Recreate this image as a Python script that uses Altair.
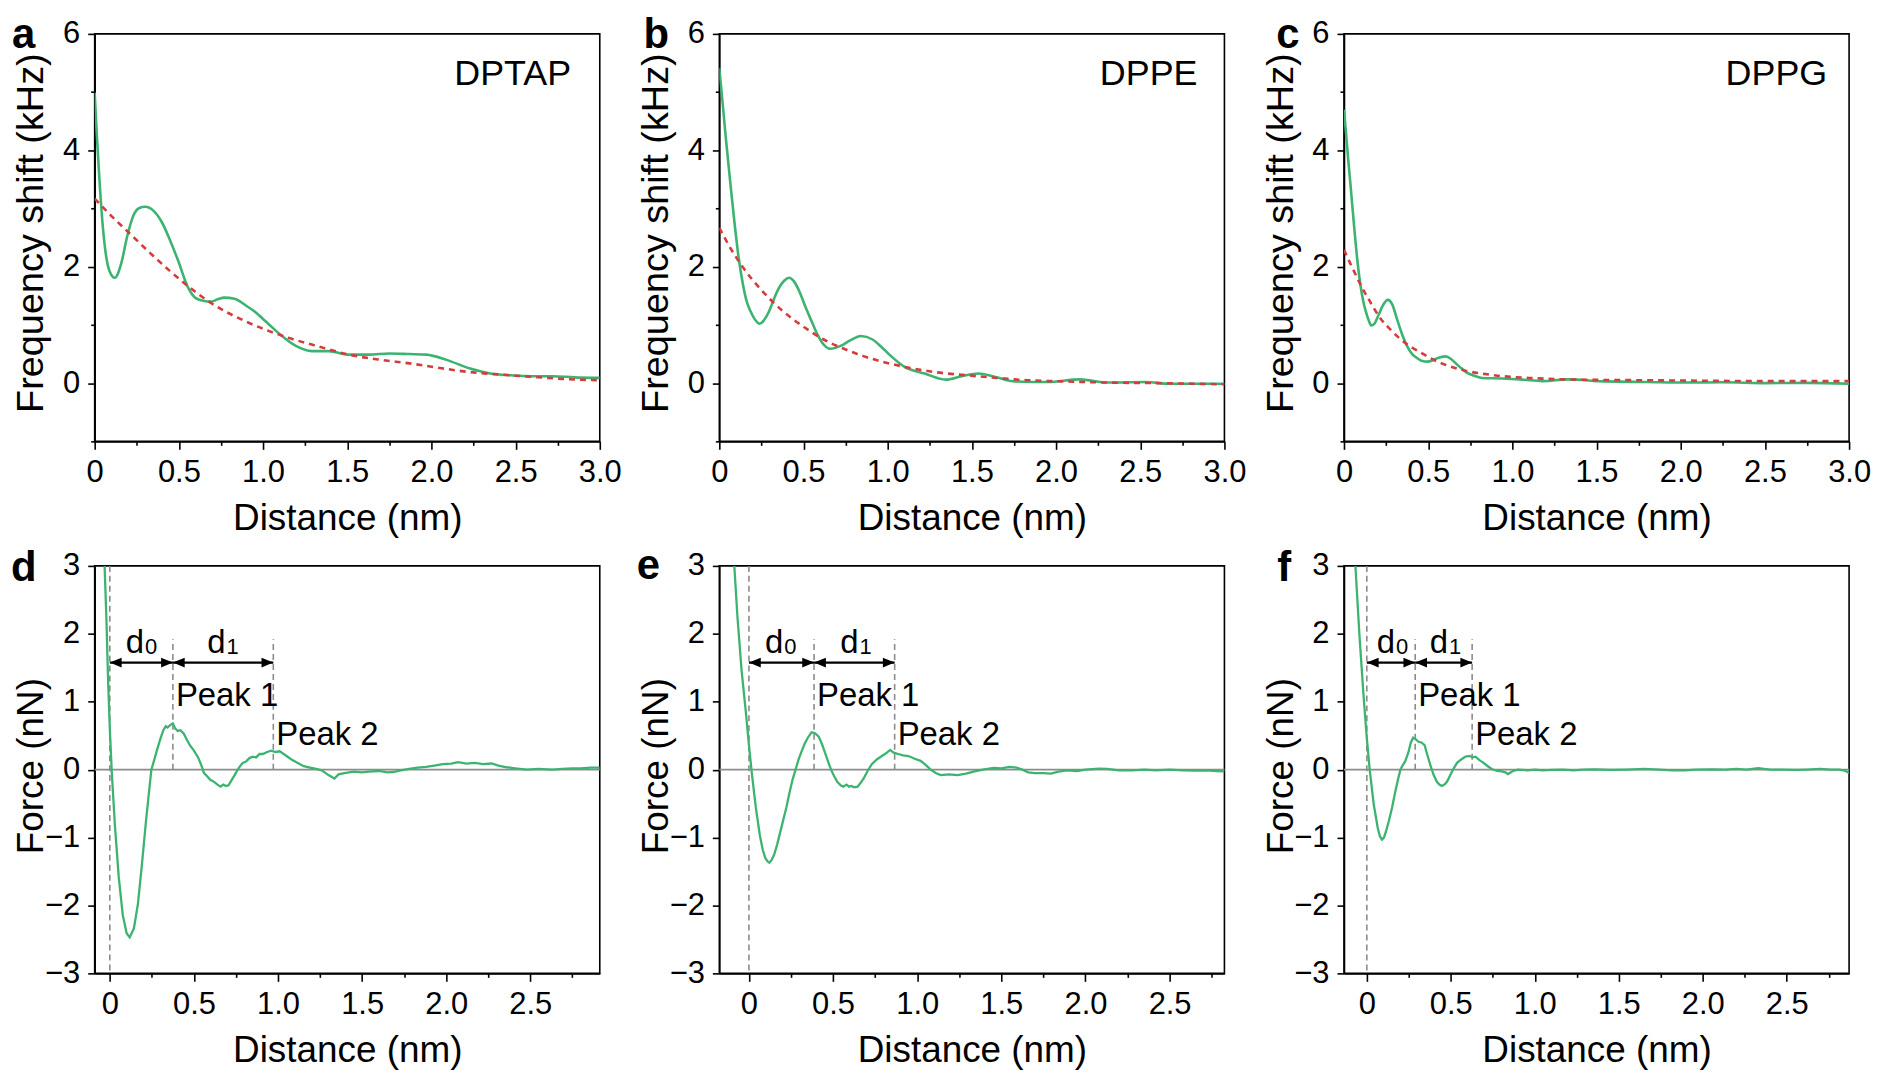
import altair as alt
import pandas as pd

FONT = "Liberation Sans"
GREEN = "#3cb371"
RED = "#d43d3d"
GRAY = "#8c8c8c"
W, H = 507, 409

# ---------------- top row: frequency shift (kHz) vs distance (nm) ----------------
a_x = [0.0, 0.012, 0.024, 0.048, 0.072, 0.097, 0.12, 0.157, 0.193, 0.23, 0.266, 0.30, 0.35, 0.40,
       0.447, 0.495, 0.555, 0.60, 0.65, 0.69, 0.73, 0.77, 0.83, 0.90, 0.95, 1.02, 1.10, 1.195, 1.29,
       1.39, 1.51, 1.63, 1.75, 1.87, 1.97, 2.09, 2.23, 2.35, 2.47, 2.60, 2.72, 2.85, 3.0]
a_y = [4.99, 4.3, 3.70, 2.70, 2.11, 1.87, 1.81, 2.05, 2.52, 2.88, 3.01, 3.03, 2.96, 2.76,
       2.46, 2.11, 1.64, 1.46, 1.41, 1.40, 1.44, 1.47, 1.45, 1.33, 1.23, 1.05, 0.84, 0.64, 0.55,
       0.55, 0.49, 0.49, 0.51, 0.50, 0.49, 0.40, 0.25, 0.165, 0.135, 0.12, 0.12, 0.10, 0.09]
a_fit_x = [0.0, 0.1, 0.205, 0.35, 0.54, 0.70, 0.905, 1.15, 1.33, 1.51, 1.70, 1.87, 2.05, 2.23, 2.40, 2.59, 2.80, 3.0]
a_fit_y = [3.17, 2.87, 2.58, 2.18, 1.70, 1.36, 1.05, 0.78, 0.63, 0.49, 0.40, 0.34, 0.26, 0.19, 0.15, 0.11, 0.07, 0.05]

b_x = [0.0, 0.02, 0.04, 0.065, 0.09, 0.115, 0.14, 0.163, 0.186, 0.21, 0.24, 0.265, 0.295, 0.325,
       0.355, 0.385, 0.415, 0.445, 0.475, 0.51, 0.55, 0.58, 0.61, 0.66, 0.72, 0.78, 0.84, 0.91, 0.96,
       1.01, 1.10, 1.22, 1.345, 1.44, 1.54, 1.635, 1.755, 1.95, 2.14, 2.31, 2.53, 2.675, 2.85, 3.0]
b_y = [5.41, 4.8, 4.17, 3.45, 2.76, 2.15, 1.70, 1.40, 1.23, 1.10, 1.02, 1.08, 1.23, 1.45,
       1.64, 1.76, 1.81, 1.74, 1.58, 1.32, 1.05, 0.85, 0.70, 0.59, 0.64, 0.74, 0.81, 0.75, 0.63,
       0.49, 0.28, 0.165, 0.06, 0.12, 0.165, 0.11, 0.03, 0.02, 0.065, 0.01, 0.02, -0.01, -0.01, -0.01]
b_fit_x = [0.0, 0.07, 0.14, 0.25, 0.38, 0.50, 0.62, 0.74, 0.86, 0.98, 1.10, 1.28, 1.47, 1.65, 1.83, 2.05, 2.31, 2.60, 3.0]
b_fit_y = [2.67, 2.30, 1.99, 1.60, 1.23, 0.97, 0.75, 0.59, 0.46, 0.36, 0.28, 0.19, 0.135, 0.09, 0.05, 0.03, 0.01, 0.0, -0.02]

c_x = [0.0, 0.012, 0.024, 0.042, 0.06, 0.078, 0.097, 0.115, 0.133, 0.148, 0.162, 0.183, 0.205,
       0.232, 0.26, 0.287, 0.314, 0.344, 0.374, 0.405, 0.435, 0.465, 0.495, 0.525, 0.555, 0.604,
       0.634, 0.664, 0.695, 0.725, 0.77, 0.82, 0.94, 1.06, 1.18, 1.33, 1.55, 1.80, 2.03, 2.25, 2.51, 2.75, 3.0]
c_y = [4.70, 4.3, 3.88, 3.3, 2.70, 2.15, 1.70, 1.40, 1.20, 1.07, 0.99, 1.03, 1.17,
       1.34, 1.43, 1.35, 1.11, 0.85, 0.64, 0.50, 0.43, 0.38, 0.37, 0.39, 0.43, 0.46,
       0.42, 0.34, 0.26, 0.19, 0.13, 0.09, 0.08, 0.06, 0.035, 0.065, 0.03, 0.02, 0.01, 0.015, 0.0, 0.005, -0.01]
c_fit_x = [0.0, 0.05, 0.097, 0.155, 0.217, 0.28, 0.338, 0.40, 0.459, 0.52, 0.58, 0.65, 0.725, 0.83, 0.94, 1.10, 1.30, 1.55, 1.79, 2.20, 2.60, 3.0]
c_fit_y = [2.29, 1.98, 1.70, 1.40, 1.11, 0.91, 0.75, 0.62, 0.52, 0.42, 0.34, 0.27, 0.21, 0.16, 0.12, 0.09, 0.065, 0.055, 0.05, 0.04, 0.035, 0.035]

# ---------------- bottom row: force (nN) vs distance (nm) ----------------
d_x = [-0.035, -0.031, -0.02, -0.01, 0.0, 0.012, 0.03, 0.053, 0.077, 0.10, 0.118, 0.143, 0.167, 0.19,
       0.215, 0.247, 0.265, 0.283, 0.30, 0.319, 0.333, 0.343, 0.36, 0.375, 0.39, 0.404, 0.42, 0.44,
       0.458, 0.476, 0.50, 0.525, 0.545, 0.56, 0.58, 0.597, 0.62, 0.64, 0.658, 0.675, 0.69, 0.706,
       0.725, 0.742, 0.765, 0.79, 0.81, 0.83, 0.85, 0.87, 0.89, 0.91, 0.935, 0.96, 0.985, 1.01, 1.04,
       1.08, 1.115, 1.153, 1.19, 1.226, 1.26, 1.30, 1.335, 1.36, 1.395, 1.45, 1.50, 1.54, 1.60, 1.65,
       1.685, 1.73, 1.78, 1.83, 1.88, 1.93, 1.98, 2.03, 2.07, 2.12, 2.17, 2.22, 2.27, 2.31, 2.36, 2.41,
       2.48, 2.55, 2.63, 2.69, 2.75, 2.80, 2.86, 2.913]
d_y = [3.2, 3.0, 2.2, 1.3, 0.6, -0.05, -0.81, -1.58, -2.14, -2.41, -2.47, -2.34, -1.98, -1.42,
       -0.76, 0.0, 0.15, 0.31, 0.45, 0.585, 0.64, 0.62, 0.66, 0.68, 0.60, 0.57, 0.58, 0.53,
       0.44, 0.36, 0.28, 0.18, 0.06, -0.05, -0.10, -0.15, -0.18, -0.22, -0.25, -0.22, -0.24, -0.23,
       -0.15, -0.08, 0.02, 0.10, 0.12, 0.17, 0.19, 0.18, 0.23, 0.23, 0.26, 0.28, 0.26, 0.27, 0.22,
       0.15, 0.10, 0.05, 0.03, 0.01, -0.01, -0.08, -0.13, -0.07, -0.05, -0.03, -0.04, -0.03, -0.02, -0.04,
       -0.035, -0.01, 0.01, 0.03, 0.04, 0.06, 0.08, 0.09, 0.11, 0.09, 0.10, 0.08, 0.09, 0.06, 0.035, 0.02,
       0.0, 0.01, 0.0, 0.01, 0.02, 0.02, 0.03, 0.03]

e_x = [-0.12, -0.087, -0.068, -0.044, -0.019, 0.0, 0.017, 0.041, 0.065, 0.082, 0.097, 0.11, 0.121,
       0.135, 0.15, 0.168, 0.186, 0.204, 0.222, 0.24, 0.259, 0.277, 0.295, 0.313, 0.331, 0.35, 0.372,
       0.39, 0.405, 0.416, 0.435, 0.452, 0.47, 0.488, 0.505, 0.525, 0.545, 0.561, 0.58, 0.595, 0.609,
       0.625, 0.646, 0.665, 0.682, 0.705, 0.73, 0.76, 0.79, 0.815, 0.839, 0.86, 0.887, 0.915, 0.948,
       0.985, 1.02, 1.05, 1.08, 1.11, 1.14, 1.19, 1.24, 1.29, 1.335, 1.39, 1.455, 1.50, 1.55, 1.59,
       1.625, 1.66, 1.697, 1.75, 1.794, 1.84, 1.89, 1.95, 2.0, 2.08, 2.13, 2.20, 2.28, 2.35, 2.42, 2.50,
       2.58, 2.65, 2.72, 2.78, 2.826]
e_y = [3.6, 3.0, 2.24, 1.47, 0.86, 0.36, -0.05, -0.56, -0.97, -1.18, -1.30, -1.35, -1.37,
       -1.33, -1.25, -1.10, -0.92, -0.74, -0.56, -0.35, -0.15, 0.0, 0.15, 0.27, 0.38, 0.47, 0.55,
       0.54, 0.51, 0.48, 0.37, 0.25, 0.12, 0.0, -0.09, -0.18, -0.23, -0.25, -0.22, -0.25, -0.24,
       -0.26, -0.25, -0.19, -0.13, -0.02, 0.08, 0.15, 0.20, 0.24, 0.29, 0.25, 0.23, 0.21, 0.20,
       0.16, 0.13, 0.07, 0.0, -0.05, -0.08, -0.07, -0.08, -0.06, -0.03, 0.0, 0.025, 0.02, 0.04, 0.03,
       0.0, -0.04, -0.05, -0.05, -0.06, -0.03, -0.01, -0.02, 0.0, 0.015, 0.01, -0.01, -0.01, 0.0, -0.01, 0.0,
       -0.01, -0.015, -0.01, -0.02, -0.025]

f_x = [-0.09, -0.068, -0.044, -0.019, 0.0, 0.017, 0.041, 0.065, 0.078, 0.09, 0.102, 0.114, 0.132,
       0.15, 0.168, 0.187, 0.20, 0.21, 0.228, 0.247, 0.262, 0.276, 0.29, 0.308, 0.325, 0.344, 0.36,
       0.38, 0.398, 0.417, 0.432, 0.446, 0.462, 0.477, 0.495, 0.513, 0.537, 0.562, 0.585, 0.61, 0.63,
       0.647, 0.67, 0.695, 0.72, 0.744, 0.775, 0.804, 0.825, 0.84, 0.87, 0.90, 0.96, 1.0, 1.047, 1.10,
       1.17, 1.23, 1.29, 1.36, 1.45, 1.55, 1.65, 1.74, 1.82, 1.894, 1.96, 2.05, 2.137, 2.20, 2.26,
       2.33, 2.40, 2.47, 2.55, 2.62, 2.70, 2.76, 2.815, 2.85, 2.871]
f_y = [3.8, 3.0, 1.98, 1.07, 0.46, 0.0, -0.51, -0.86, -0.98, -1.03, -1.0, -0.91, -0.75,
       -0.56, -0.34, -0.13, 0.0, 0.05, 0.12, 0.25, 0.40, 0.47, 0.45, 0.41, 0.40, 0.36, 0.22,
       0.05, -0.08, -0.18, -0.22, -0.24, -0.22, -0.18, -0.09, 0.0, 0.10, 0.15, 0.19, 0.20, 0.18,
       0.19, 0.14, 0.10, 0.05, 0.01, -0.02, -0.025, -0.04, -0.065, -0.02, 0.0, -0.01, 0.0, -0.01, -0.005,
       0.0, -0.01, 0.0, 0.005, -0.005, 0.0, 0.01, 0.0, -0.01, -0.01, 0.0, 0.005, 0.0, 0.01, 0.0,
       0.02, 0.0, 0.0, -0.005, 0.0, 0.01, 0.0, 0.0, -0.02, -0.05]

# annotation values (nm) for bottom row
d_peaks = [0.375, 0.972]
e_peaks = [0.387, 0.866]
f_peaks = [0.288, 0.627]
d_lab_x = [0.186, 0.67]
e_lab_x = [0.186, 0.633]
f_lab_x = [0.15, 0.465]
PEAK_LINE_TOP = 1.92
ARROW_Y = 1.576
DLAB_Y = 1.72
PEAK_LAB_Y = [0.94, 0.356]

top_domains = {"x": [0, 3], "y": [-1, 6]}
d_xdom = [-0.09, 2.913]
e_xdom = [-0.176, 2.826]
f_xdom = [-0.136, 2.871]
bot_ydom = [-3, 3]

names = ["DPTAP", "DPPE", "DPPG"]
name_x = [2.83, 2.84, 2.87]
NAME_Y = 5.12
letters = ["a", "b", "c", "d", "e", "f"]
letter_dx = [-83, -76, -68, -84, -83, -67]
letter_dy = [14, 14, 14, 15, 13, 15]


def frange(a, b, step):
    out = []
    v = a
    while v <= b + 1e-9:
        out.append(round(v, 4))
        v += step
    return out


def x_axis(vals):
    return alt.Axis(
        values=vals, title="Distance (nm)", grid=False, labelOverlap=False, labelFlush=False,
        labelExpr="datum.value % 0.5 == 0 ? (datum.value == 0 ? '0' : format(datum.value, '.1f')) : ''",
        tickSize={"condition": {"test": "datum.value % 0.5 == 0", "value": 8}, "value": 4},
        labelPadding=8, titleX=W / 2, titleY=88, titleBaseline="alphabetic", titleAlign="center",
    )


def y_axis(vals, title, major_mod, ty, tsize):
    return alt.Axis(
        values=vals, title=title, grid=False, labelOverlap=False, labelFlush=False,
        labelExpr=f"datum.value % {major_mod} == 0 ? format(datum.value, 'd') : ''",
        tickSize={"condition": {"test": f"datum.value % {major_mod} == 0", "value": 7}, "value": 4},
        labelPadding=8, titleX=-63, titleY=ty, titleAngle=270, titleFontSize=tsize,
        titleBaseline="middle", titleAlign="center",
    )


def letter_layer(i):
    return alt.Chart(pd.DataFrame({"t": [letters[i]]})).mark_text(
        align="left", baseline="alphabetic", fontSize=42, fontWeight="bold", font=FONT, color="black"
    ).encode(x=alt.value(letter_dx[i]), y=alt.value(letter_dy[i]), text="t:N")


def freq_panel(i, gx, gy, fx, fy):
    xs = alt.Scale(domain=top_domains["x"], nice=False, zero=False)
    ys = alt.Scale(domain=top_domains["y"], nice=False, zero=False)
    X = alt.X("x:Q", scale=xs, axis=x_axis(frange(0, 3, 0.25)))
    Y = alt.Y("y:Q", scale=ys, axis=y_axis(frange(-1, 6, 1), "Frequency shift (kHz)", 2, H / 2 - 5, 38))
    green = alt.Chart(pd.DataFrame({"x": gx, "y": gy})).mark_line(
        color=GREEN, strokeWidth=2.6, interpolate="monotone", clip=True
    ).encode(x=X, y=Y)
    fit = alt.Chart(pd.DataFrame({"x": fx, "y": fy})).mark_line(
        color=RED, strokeWidth=2.6, strokeDash=[6, 5], interpolate="monotone", clip=True
    ).encode(x=alt.X("x:Q", scale=xs), y=alt.Y("y:Q", scale=ys))
    name = alt.Chart(pd.DataFrame({"x": [name_x[i]], "y": [NAME_Y], "t": [names[i]]})).mark_text(
        align="right", baseline="alphabetic", fontSize=36, font=FONT, color="black"
    ).encode(x=alt.X("x:Q", scale=xs), y=alt.Y("y:Q", scale=ys), text="t:N")
    return alt.layer(green, fit, name, letter_layer(i)).properties(width=W, height=H)


def force_panel(i, gx, gy, xdom, peaks, lab_x):
    xs = alt.Scale(domain=xdom, nice=False, zero=False)
    ys = alt.Scale(domain=bot_ydom, nice=False, zero=False)
    X = alt.X("x:Q", scale=xs, axis=x_axis(frange(0, 2.75, 0.25)))
    Y = alt.Y("y:Q", scale=ys, axis=y_axis(frange(-3, 3, 0.5), "Force (nN)", 1, H / 2 - 4, 37))
    xq = alt.X("x:Q", scale=xs)
    yq = alt.Y("y:Q", scale=ys)

    zero = alt.Chart(pd.DataFrame({"y": [0.0]})).mark_rule(color=GRAY, strokeWidth=1.6).encode(y=alt.Y("y:Q", scale=ys))
    vzero = alt.Chart(pd.DataFrame({"x": [0.0]})).mark_rule(
        color=GRAY, strokeWidth=1.6, strokeDash=[6, 4]).encode(x=xq)
    vpeaks = alt.Chart(pd.DataFrame({"x": peaks, "y": [0.0, 0.0], "y2": [PEAK_LINE_TOP] * 2})).mark_rule(
        color=GRAY, strokeWidth=1.6, strokeDash=[6, 4]).encode(x=xq, y=yq, y2="y2:Q")
    green = alt.Chart(pd.DataFrame({"x": gx, "y": gy})).mark_line(
        color=GREEN, strokeWidth=2.3, interpolate="linear", clip=True
    ).encode(x=X, y=Y)

    starts = [0.0, peaks[0]]
    ends = [peaks[0], peaks[1]]
    arr = pd.DataFrame({"x": starts, "x2": ends, "y": [ARROW_Y] * 2})
    arrows = alt.Chart(arr).mark_rule(color="black", strokeWidth=2.2).encode(x=xq, x2="x2:Q", y=yq)
    lheads = alt.Chart(pd.DataFrame({"x": starts, "y": [ARROW_Y] * 2})).mark_point(
        shape="M0,0L1,-0.42L1,0.42Z", filled=True, color="black", opacity=1, size=560
    ).encode(x=xq, y=yq)
    rheads = alt.Chart(pd.DataFrame({"x": ends, "y": [ARROW_Y] * 2})).mark_point(
        shape="M0,0L-1,-0.42L-1,0.42Z", filled=True, color="black", opacity=1, size=560
    ).encode(x=xq, y=yq)

    dl = pd.DataFrame({"x": lab_x, "y": [DLAB_Y] * 2, "t": ["d", "d"], "s": ["0", "1"]})
    dmain = alt.Chart(dl).mark_text(align="right", baseline="alphabetic", fontSize=33, font=FONT,
                                    color="black", dx=3).encode(x=xq, y=yq, text="t:N")
    dsub = alt.Chart(dl).mark_text(align="left", baseline="alphabetic", fontSize=22, font=FONT,
                                   color="black", dx=4, dy=1).encode(x=xq, y=yq, text="s:N")
    pk = pd.DataFrame({"x": peaks, "y": PEAK_LAB_Y, "t": ["Peak 1", "Peak 2"]})
    pklab = alt.Chart(pk).mark_text(align="left", baseline="alphabetic", fontSize=33, font=FONT,
                                    color="black", dx=3).encode(x=xq, y=yq, text="t:N")
    return alt.layer(zero, vzero, vpeaks, green, arrows, lheads, rheads, dmain, dsub, pklab,
                     letter_layer(i)).properties(width=W, height=H)


pa = freq_panel(0, a_x, a_y, a_fit_x, a_fit_y)
pb = freq_panel(1, b_x, b_y, b_fit_x, b_fit_y)
pc = freq_panel(2, c_x, c_y, c_fit_x, c_fit_y)
pd_ = force_panel(3, d_x, d_y, d_xdom, d_peaks, d_lab_x)
pe = force_panel(4, e_x, e_y, e_xdom, e_peaks, e_lab_x)
pf = force_panel(5, f_x, f_y, f_xdom, f_peaks, f_lab_x)

chart = alt.concat(
    pa, pb, pc, pd_, pe, pf, columns=3, spacing={"row": 125, "column": 120}, bounds="flush"
).resolve_scale(x="independent", y="independent").properties(
    padding={"left": 2, "top": 3, "right": 0, "bottom": 0}, background="white"
).configure_view(stroke="black", strokeWidth=1.6).configure_axis(
    domainColor="black", domainWidth=1.6, tickColor="black", tickWidth=1.6,
    labelFont=FONT, labelFontSize=31, labelColor="black",
    titleFont=FONT, titleFontSize=37, titleFontWeight="normal", titleColor="black",
)

chart.save("out.html", embed_options={"renderer": "svg", "actions": False})
